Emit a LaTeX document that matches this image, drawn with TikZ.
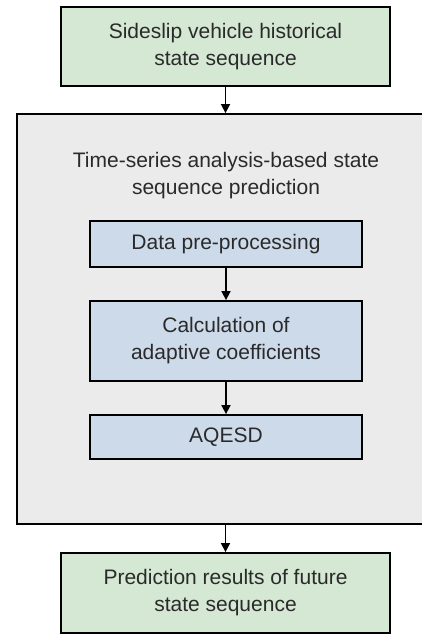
\documentclass[tikz,border=0pt]{standalone}
\usepackage{fontspec}
\setmainfont{Liberation Sans}
\usetikzlibrary{arrows.meta}
\definecolor{gfill}{HTML}{D5E8D4}
\definecolor{bfill}{HTML}{CDDAEA}
\definecolor{grayfill}{HTML}{EBEBEB}
\definecolor{txt}{HTML}{2A2A2A}
\tikzset{
  greenbox/.style={draw=black, line width=1.8pt, fill=gfill, minimum width=329pt, align=center, inner sep=0pt, text=txt},
  bluebox/.style={draw=black, line width=1.8pt, fill=bfill, minimum width=272pt, align=center, inner sep=0pt, text=txt},
  conn/.style={line width=1.6pt, -{Triangle[width=9pt,length=9pt]}},
}
\begin{document}
\begin{tikzpicture}[x=1pt,y=-1pt, font=\fontsize{21}{27}\selectfont]
\useasboundingbox (0,0) rectangle (422,634);
\clip (0,0) rectangle (422,634);
\node[greenbox, minimum height=79pt] (top) at (225.5,46.5) {Sideslip vehicle historical\\state sequence};
\node[draw=black, line width=1.8pt, fill=grayfill, minimum width=423pt, minimum height=410pt, inner sep=0pt] (grp) at (228.5,319) {};
\node[align=center, text=txt, inner sep=0pt] (title) at (226,176) {Time-series analysis-based state\\sequence prediction};
\node[bluebox, minimum height=46pt] (data) at (226,244) {Data pre-processing};
\node[bluebox, minimum height=80pt] (calc) at (226,341) {Calculation of\\adaptive coefficients};
\node[bluebox, minimum height=44pt] (aqesd) at (226,437) {AQESD};
\node[greenbox, minimum height=80pt] (bot) at (225.5,593) {Prediction results of future\\state sequence};
\draw[conn] (top.south) -- (top.south |- grp.north);
\draw[conn] (data) -- (calc);
\draw[conn] (calc) -- (aqesd);
\draw[conn] (grp.south -| bot.north) -- (bot.north);
\end{tikzpicture}
\end{document}
